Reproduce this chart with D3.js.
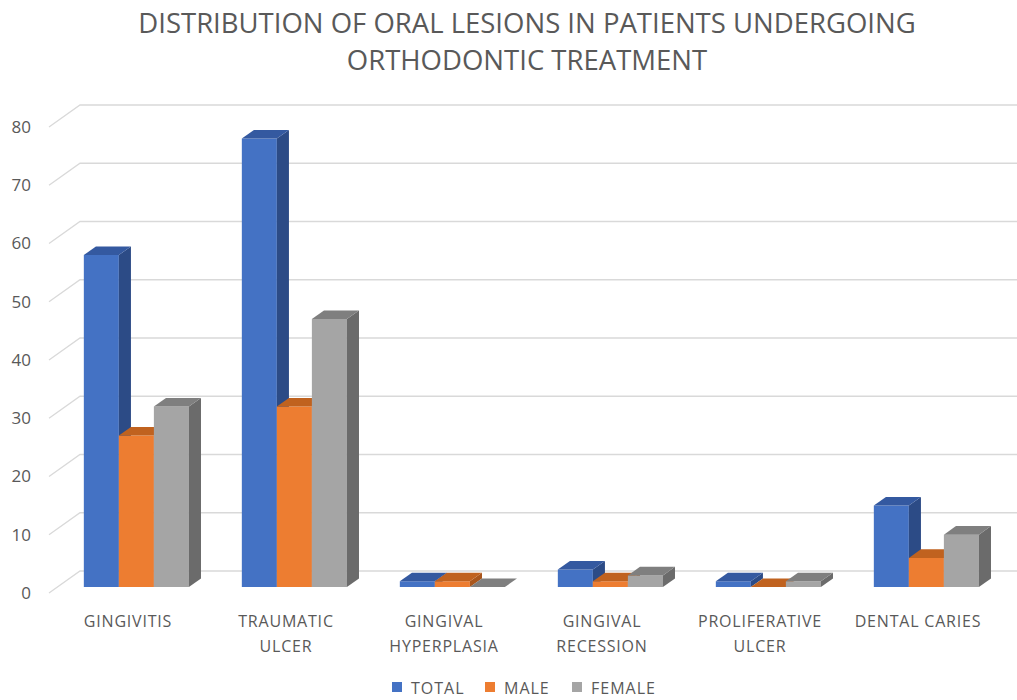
<!DOCTYPE html>
<html lang="en">
<head>
  <meta charset="UTF-8">
  <title>Distribution of Oral Lesions</title>
  <script src="https://d3js.org/d3.v7.min.js"></script>
  <style>
    body { margin: 0; background: #fff; }
    text { font-family: "Open Sans", sans-serif; fill: #595959; }
  </style>
</head>
<body>
  <div id="chart"></div>
  <script>
    // Data
    const categories = [
      ["GINGIVITIS"],
      ["TRAUMATIC", "ULCER"],
      ["GINGIVAL", "HYPERPLASIA"],
      ["GINGIVAL", "RECESSION"],
      ["PROLIFERATIVE", "ULCER"],
      ["DENTAL CARIES"]
    ];
    const seriesNames = ["TOTAL", "MALE", "FEMALE"];
    const totalValues = [57, 77, 1, 3, 1, 14];
    const maleValues = [26, 31, 1, 1, 0, 5];
    const femaleValues = [31, 46, 0, 2, 1, 9];
    const yTicks = [0, 10, 20, 30, 40, 50, 60, 70, 80];
    const titleLines = ["DISTRIBUTION OF ORAL LESIONS IN PATIENTS UNDERGOING", "ORTHODONTIC TREATMENT"];

    const seriesValues = [totalValues, maleValues, femaleValues];
    const colors = [
      { front: "#4472c4", top: "#3459a0", side: "#2c4b86" },
      { front: "#ed7d31", top: "#c0621f", side: "#a9561c" },
      { front: "#a5a5a5", top: "#7f7f7f", side: "#6b6b6b" }
    ];

    const width = 1017, height = 700;
    const depthX = 31, depthY = -22;   // wall depth offset
    const barT0 = 0.27, barT1 = 0.66;  // bar depth (fraction of wall depth)

    const svg = d3.select("#chart").append("svg")
      .attr("width", width)
      .attr("height", height);

    const catKeys = categories.map(c => c.join(" "));
    const x0 = d3.scaleBand().domain(catKeys).range([49, 997])
      .paddingInner(0.335).paddingOuter(0.1675);
    const x1 = d3.scaleBand().domain(seriesNames).range([0, x0.bandwidth()]);
    const y = d3.scaleLinear().domain([0, 80]).range([593, 127]);

    // project a front-plane point back by depth fraction t
    const P = (px, py, t) => [px + t * depthX, py + t * depthY];
    const poly = pts => pts.map(p => p.join(",")).join(" ");

    // gridlines + y tick labels
    const grid = svg.append("g");
    yTicks.forEach(v => {
      const a = P(49, y(v), 0), b = P(49, y(v), 1);
      grid.append("polyline")
        .attr("points", poly([a, b, [width, b[1]]]))
        .attr("fill", "none")
        .attr("stroke", "#d9d9d9")
        .attr("stroke-width", 1.3);
      grid.append("text")
        .attr("x", 31)
        .attr("y", y(v))
        .attr("dy", "0.35em")
        .attr("text-anchor", "end")
        .attr("font-size", 17)
        .text(v);
    });

    // bars: front, side, top faces
    const bars = svg.append("g");
    catKeys.forEach((cat, i) => {
      seriesNames.forEach((s, j) => {
        const v = seriesValues[j][i];
        const xl = x0(cat) + x1(s), xr = xl + x1.bandwidth();
        const yt = y(v), yb = y(0);
        const c = colors[j];
        bars.append("polygon")
          .attr("points", poly([P(xl, yt, barT0), P(xr, yt, barT0), P(xr, yb, barT0), P(xl, yb, barT0)]))
          .attr("fill", c.front);
        bars.append("polygon")
          .attr("points", poly([P(xr, yt, barT0), P(xr, yt, barT1), P(xr, yb, barT1), P(xr, yb, barT0)]))
          .attr("fill", c.side);
        bars.append("polygon")
          .attr("points", poly([P(xl, yt, barT0), P(xr, yt, barT0), P(xr, yt, barT1), P(xl, yt, barT1)]))
          .attr("fill", c.top);
      });
    });

    // category labels
    categories.forEach((lines, i) => {
      const cx = x0(catKeys[i]) + x0.bandwidth() / 2;
      const t = svg.append("text")
        .attr("text-anchor", "middle")
        .attr("font-size", 16)
        .attr("letter-spacing", 0.8);
      lines.forEach((ln, k) => {
        t.append("tspan").attr("x", cx).attr("y", 627 + k * 25).text(ln);
      });
    });

    // title
    titleLines.forEach((ln, k) => {
      svg.append("text")
        .attr("x", 527)
        .attr("y", 33 + k * 37)
        .attr("text-anchor", "middle")
        .attr("font-size", 27.5)
        .text(ln);
    });

    // legend
    const legendX = [392, 485, 572];
    seriesNames.forEach((s, j) => {
      svg.append("rect")
        .attr("x", legendX[j])
        .attr("y", 682)
        .attr("width", 10)
        .attr("height", 10)
        .attr("fill", colors[j].front);
      svg.append("text")
        .attr("x", legendX[j] + 19)
        .attr("y", 694)
        .attr("font-size", 16)
        .attr("letter-spacing", 1)
        .text(s);
    });
  </script>
</body>
</html>
